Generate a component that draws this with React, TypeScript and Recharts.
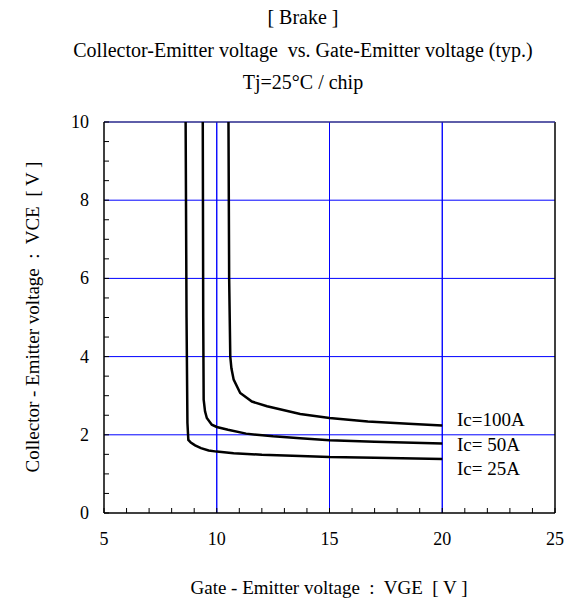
import { ScatterChart, Scatter, XAxis, YAxis, CartesianGrid, ReferenceLine } from "recharts";

// VGE [V] / VCE [V]
const ic25Vge = [8.62, 8.66, 8.70, 8.74, 8.85, 9.04, 9.3, 9.64, 10.0, 10.75, 12.0, 13.7, 15.0, 17.0, 20.0];
const ic25Vce = [10, 5.0, 2.3, 1.87, 1.8, 1.73, 1.66, 1.6, 1.57, 1.53, 1.49, 1.46, 1.43, 1.41, 1.38];

const ic50Vge = [9.38, 9.40, 9.42, 9.48, 9.56, 9.78, 10.0, 10.5, 11.3, 12.5, 13.7, 15.0, 17.0, 20.0];
const ic50Vce = [10, 5.0, 2.9, 2.6, 2.43, 2.26, 2.2, 2.13, 2.03, 1.96, 1.91, 1.86, 1.82, 1.78];

const ic100Vge = [10.52, 10.55, 10.6, 10.65, 10.75, 11.04, 11.56, 12.23, 13.7, 15.0, 16.7, 18.5, 20.0];
const ic100Vce = [10, 6.0, 4.0, 3.7, 3.41, 3.07, 2.85, 2.73, 2.53, 2.43, 2.34, 2.28, 2.24];

const curveNames = ["Ic=100A", "Ic= 50A", "Ic= 25A"];

const xTicks = [5, 6, 7, 8, 9, 10, 11, 12, 13, 14, 15, 16, 17, 18, 19, 20, 21, 22, 23, 24, 25];
const xLabelled = [5, 10, 15, 20, 25];
const yTicks = [0, 0.5, 1, 1.5, 2, 2.5, 3, 3.5, 4, 4.5, 5, 5.5, 6, 6.5, 7, 7.5, 8, 8.5, 9, 9.5, 10];
const yLabelled = [0, 2, 4, 6, 8, 10];
const gridX = [10, 15, 20];
const gridY = [2, 4, 6, 8];

const toPoints = (xs: number[], ys: number[]) => xs.map((x, i) => ({ x, y: ys[i] }));

const FONT = "'Liberation Serif', 'Times New Roman', serif";

const LeftTick = (props: any) => {
  const { x, y, payload } = props;
  return (
    <g>
      <line x1={x} x2={x + 5} y1={y} y2={y} stroke="#000" strokeWidth={1} />
      {yLabelled.includes(payload.value) && (
        <text x={x - 15} y={y} dy={6} textAnchor="end" fontSize={18} fontFamily={FONT} fill="#000">
          {payload.value}
        </text>
      )}
    </g>
  );
};

const BottomTick = (props: any) => {
  const { x, y, payload } = props;
  return (
    <g>
      <line x1={x} x2={x} y1={y} y2={y - 5} stroke="#000" strokeWidth={1} />
      {xLabelled.includes(payload.value) && (
        <text x={x} y={y + 32} textAnchor="middle" fontSize={18} fontFamily={FONT} fill="#000">
          {payload.value}
        </text>
      )}
    </g>
  );
};

const txt = (s: string, left: number, top: number, extra: any = {}) => (
  <div
    style={{
      position: "absolute",
      left,
      top,
      fontFamily: FONT,
      fontSize: 19,
      color: "#000",
      whiteSpace: "pre",
      lineHeight: "22px",
      ...extra,
    }}
  >
    {s}
  </div>
);

const titleStyle = { width: 606, textAlign: "center", fontSize: 20 };

const NoDot = () => null;

export default function App() {
  const series = [
    toPoints(ic100Vge, ic100Vce),
    toPoints(ic50Vge, ic50Vce),
    toPoints(ic25Vge, ic25Vce),
  ];

  return (
    <div style={{ position: "absolute", left: 0, top: 0, width: 575, height: 603, background: "#fff", overflow: "hidden" }}>
      <ScatterChart
        width={575}
        height={603}
        margin={{ top: 122, right: 20, bottom: 0, left: 0 }}
      >
        <CartesianGrid
          stroke="#0000ff"
          strokeWidth={1}
          verticalValues={gridX}
          horizontalValues={gridY}
        />
        <XAxis
          type="number"
          dataKey="x"
          domain={[5, 25]}
          ticks={xTicks}
          interval={0}
          axisLine={{ stroke: "#000", strokeWidth: 1.5 }}
          tickLine={false}
          tickSize={0}
          tickMargin={0}
          tick={<BottomTick />}
          height={90}
          allowDataOverflow
        />
        <YAxis
          type="number"
          dataKey="y"
          domain={[0, 10]}
          ticks={yTicks}
          interval={0}
          axisLine={{ stroke: "#000", strokeWidth: 1.5 }}
          tickLine={false}
          tickSize={0}
          tickMargin={0}
          tick={<LeftTick />}
          width={104}
          allowDataOverflow
        />
        {series.map((d, i) => (
          <Scatter
            key={curveNames[i]}
            name={curveNames[i]}
            data={d}
            line={{ stroke: "#000", strokeWidth: 2.5 }}
            lineType="joint"
            shape={<NoDot />}
            isAnimationActive={false}
          />
        ))}
        {gridX.map((v) => (
          <ReferenceLine key={"gx" + v} x={v} stroke="#0000ff" strokeWidth={1} ifOverflow="visible" />
        ))}
        <ReferenceLine x={25} stroke="#000000" strokeWidth={1.5} ifOverflow="visible" />
        <ReferenceLine y={10} stroke="#28288c" strokeWidth={1.5} ifOverflow="visible" />
      </ScatterChart>

      {txt("[ Brake ]", 0, 6, titleStyle)}
      {txt("Collector-Emitter voltage  vs. Gate-Emitter voltage (typ.)", 0, 39, titleStyle)}
      {txt("Tj=25°C / chip", 0, 71, titleStyle)}

      {txt(curveNames[0], 457, 409)}
      {txt(curveNames[1], 457, 434)}
      {txt(curveNames[2], 457, 458)}

      {txt("Gate - Emitter voltage  :  VGE  [ V ]", 104, 577, { width: 450, textAlign: "center" })}
      <div
        style={{
          position: "absolute",
          left: 33,
          top: 317,
          transform: "translate(-50%, -50%) rotate(-90deg)",
          fontFamily: FONT,
          fontSize: 19,
          whiteSpace: "pre",
          lineHeight: "22px",
        }}
      >
        Collector - Emitter voltage  :  VCE  [ V ]
      </div>
    </div>
  );
}
